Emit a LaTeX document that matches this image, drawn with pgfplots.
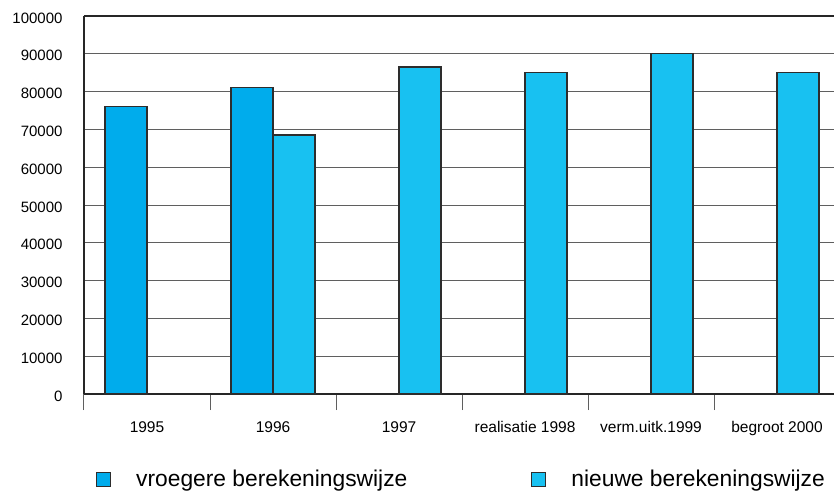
\documentclass[border=0pt]{standalone}
\usepackage{pgfplots}
\pgfplotsset{compat=1.18}
\usepackage{fontspec}
\setmainfont{Liberation Sans}
\definecolor{vroeg}{RGB}{0,172,236}
\definecolor{nieuw}{RGB}{24,193,241}
\definecolor{gridc}{RGB}{95,95,95}
\definecolor{edgec}{RGB}{45,45,45}
\pgfplotsset{sqlegend/.style={legend image code/.code={%
    \draw[##1, line width=1pt] (0pt,-7pt) rectangle (14pt,7pt);}}}
\begin{document}
\begin{tikzpicture}
\useasboundingbox (-84pt,-97pt) rectangle (750pt,394pt);
\begin{axis}[
    at={(0pt,0pt)}, anchor=south west,
    scale only axis,
    width=750pt, height=378pt,
    xmin=-0.5, xmax=5.452,
    ymin=0, ymax=100000,
    ybar=0pt,
    bar width=0.3333,
    clip=false,
    axis x line*=bottom,
    axis y line*=left,
    axis line style={line width=2.2pt, black!85},
    xtick={0,1,2,3,4,5},
    xticklabels={1995,1996,1997,realisatie 1998,verm.uitk.1999,begroot 2000},
    minor xtick={-0.5,0.5,1.5,2.5,3.5,4.5},
    tick align=outside,
    major tick length=0pt,
    minor tick length=16pt,
    minor x tick style={gridc, line width=1pt},
    ytick={0,10000,...,100000},
    scaled y ticks=false,
    ymajorgrids,
    major grid style={gridc, line width=1pt},
    /pgf/number format/assume math mode=true,
    y tick label style={/pgf/number format/fixed, /pgf/number format/1000 sep={},
        font=\fontsize{15}{18}\selectfont, xshift=-18pt, yshift=-2pt},
    x tick label style={font=\fontsize{15.5}{18}\selectfont, yshift=-24pt},
    legend columns=2,
    legend style={draw=none, fill=none, at={(0,0)}, anchor=west,
        xshift=12pt, yshift=-85pt, inner sep=0pt,
        font=\fontsize{22.8}{27}\selectfont,
        /tikz/every odd column/.append style={column sep=23pt},
        /tikz/every even column/.append style={column sep=122pt}},
]
\addplot[fill=vroeg, draw=edgec, line width=1.2pt, sqlegend]
    coordinates {(0,76000) (1,81000)};
\addplot[fill=nieuw, draw=edgec, line width=1.2pt, sqlegend]
    coordinates {(1,68500) (2,86500) (3,85000) (4,90000) (5,85000)};
\legend{vroegere berekeningswijze, nieuwe berekeningswijze}
\draw[line width=2.2pt, black!85] (rel axis cs:0,1) -- (rel axis cs:1,1);
\end{axis}
\end{tikzpicture}
\end{document}
